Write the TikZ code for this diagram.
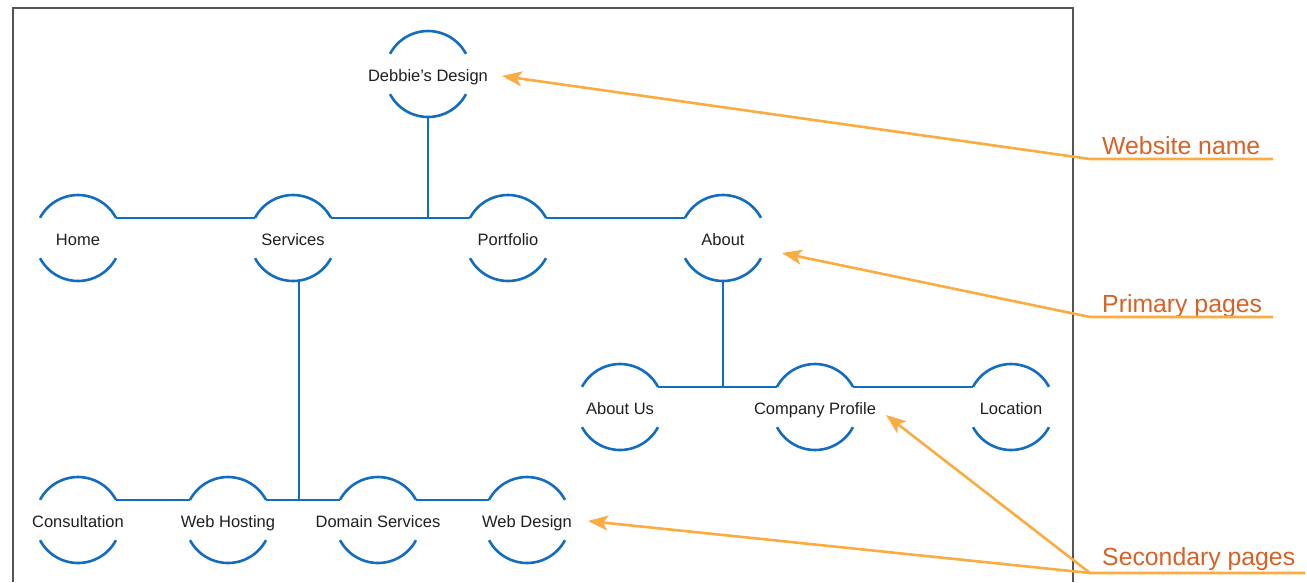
\documentclass[tikz,border=0pt]{standalone}
\usepackage{fontspec}
\setmainfont{Liberation Sans}
\usetikzlibrary{arrows.meta}

\definecolor{mapblue}{RGB}{18,108,192}
\definecolor{noteline}{RGB}{250,172,64}
\definecolor{notetext}{RGB}{214,98,38}
\definecolor{framegray}{RGB}{85,85,85}

% page names sit in an empty box so every circle keeps the same size
\newcommand{\pagetext}[1]{\makebox[0pt][c]{\raisebox{-7.5pt}[0pt][0pt]{#1}}}

\tikzset{
  page/.style={circle,minimum size=86pt,inner sep=0pt,outer sep=0pt,
    text=black!88,font=\fontsize{16.5}{19}\selectfont},
  link/.style={mapblue,line width=2.6pt},
  note/.style={noteline,line width=2.6pt,line join=round},
  notetip/.style={-{Stealth[length=20pt,width=15pt,inset=5pt]}},
  notelabel/.style={text=notetext,font=\fontsize{24.8}{29}\selectfont,
    inner sep=0pt,anchor=base west},
}

\begin{document}
\begin{tikzpicture}[x=1pt,y=-1pt]
\useasboundingbox (0,0) rectangle (1307,582);

% frame, open at the bottom
\draw[framegray,line width=1.8pt] (13,582) -- (13,8) -- (1073,8) -- (1073,582);

% pages
\node[page] (debbie) at (428,74) {\pagetext{Debbie’s Design}};

\node[page] (home) at (78,238) {\pagetext{Home}};
\node[page] (services) at (293,238) {\pagetext{Services}};
\node[page] (portfolio) at (508,238) {\pagetext{Portfolio}};
\node[page] (about) at (723,238) {\pagetext{About}};

\node[page] (aboutus) at (620,407) {\pagetext{About Us}};
\node[page] (profile) at (815,407) {\pagetext{Company Profile}};
\node[page] (location) at (1011,407) {\pagetext{Location}};

\node[page] (consult) at (78,520) {\pagetext{Consultation}};
\node[page] (hosting) at (228,520) {\pagetext{Web Hosting}};
\node[page] (domain) at (378,520) {\pagetext{Domain Services}};
\node[page] (webdesign) at (527,520) {\pagetext{Web Design}};

% open circles: an arc above and an arc below each label
\foreach \n in {debbie,home,services,portfolio,about,aboutus,profile,location,
                consult,hosting,domain,webdesign}{
  \draw[link] (\n.28) arc[start angle=28,end angle=152,radius=43pt];
  \draw[link] (\n.208) arc[start angle=208,end angle=332,radius=43pt];
}

% tree lines
\draw[link] (debbie.south) -- (debbie.south |- home.28);
\draw[link] (home.28) -- (services.152);
\draw[link] (services.28) -- (portfolio.152);
\draw[link] (portfolio.28) -- (about.152);

\coordinate (svcfoot) at ([xshift=6pt]services.south);
\draw[link] (svcfoot) -- (svcfoot |- hosting.28);
\draw[link] (consult.28) -- (hosting.152);
\draw[link] (hosting.28) -- (domain.152);
\draw[link] (domain.28) -- (webdesign.152);

\draw[link] (about.south) -- (about.south |- aboutus.28);
\draw[link] (aboutus.28) -- (profile.152);
\draw[link] (profile.28) -- (location.152);

% callouts
\node[notelabel] (sitelbl) at (1102,154) {Website name};
\coordinate (siteknee) at (1090,159);
\coordinate (siteend) at (1273,159);
\draw[note,notetip] (siteend) -- (siteknee) -- ([shift={(74,2)}]debbie.center);

\node[notelabel] (primlbl) at (1102,312) {Primary pages};
\coordinate (primknee) at (1090,317);
\coordinate (primend) at (1273,317);
\draw[note,notetip] (primend) -- (primknee) -- ([shift={(59,15)}]about.center);

\node[notelabel] (seclbl) at (1102,565) {Secondary pages};
\coordinate (secknee) at (1090,573);
\coordinate (secend) at (1305,573);
\draw[note,notetip] (secend) -- (secknee) -- ([shift={(71,8)}]profile.center);
\draw[note,notetip] (secknee) -- ([shift={(61,1)}]webdesign.center);
\end{tikzpicture}
\end{document}
